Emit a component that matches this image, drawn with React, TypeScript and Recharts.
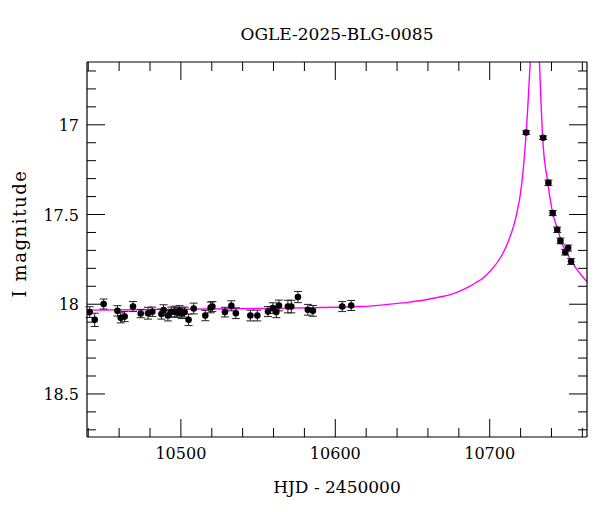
import React from 'react';
import { ComposedChart, Scatter, Line, XAxis, YAxis, ErrorBar, Label } from 'recharts';

const obsHjd = [10440.9, 10444.2, 10450.0, 10458.9, 10461.0, 10463.6, 10469.0, 10474.0, 10478.7, 10481.5, 10487.4, 10488.8, 10491.6, 10493.8, 10496.0, 10497.7, 10499.2, 10500.7, 10502.4, 10505.0, 10508.3, 10515.8, 10519.3, 10520.4, 10528.5, 10532.7, 10535.6, 10545.0, 10549.5, 10556.4, 10559.6, 10561.8, 10563.5, 10569.3, 10571.5, 10575.8, 10582.2, 10585.5, 10604.5, 10610.3, 10723.6, 10734.6, 10738.0, 10740.8, 10743.7, 10745.8, 10748.9, 10750.8, 10752.7];
const obsMag = [18.044, 18.087, 17.999, 18.037, 18.076, 18.069, 18.013, 18.052, 18.050, 18.042, 18.055, 18.033, 18.063, 18.044, 18.041, 18.046, 18.037, 18.050, 18.044, 18.087, 18.024, 18.063, 18.018, 18.013, 18.044, 18.009, 18.050, 18.063, 18.063, 18.041, 18.022, 18.044, 18.007, 18.013, 18.013, 17.960, 18.031, 18.037, 18.013, 18.007, 17.043, 17.072, 17.323, 17.492, 17.585, 17.647, 17.710, 17.687, 17.762];
const obsErr = [0.030, 0.037, 0.028, 0.029, 0.028, 0.028, 0.028, 0.023, 0.033, 0.026, 0.028, 0.030, 0.030, 0.028, 0.030, 0.027, 0.029, 0.030, 0.028, 0.032, 0.030, 0.029, 0.030, 0.028, 0.027, 0.028, 0.030, 0.030, 0.030, 0.028, 0.030, 0.031, 0.030, 0.035, 0.035, 0.031, 0.030, 0.030, 0.028, 0.028, 0.010, 0.010, 0.015, 0.014, 0.015, 0.016, 0.016, 0.017, 0.016];

const modelHjd = [10439.2, 10499.2, 10557.5, 10615.7, 10637.3, 10648.1, 10658.9, 10667.5, 10673.9, 10680.7, 10686.9, 10691.2, 10695.5, 10698.8, 10702.0, 10707.4, 10710.6, 10712.8, 10716.7, 10720.8, 10723.6, 10726.2, 10729.3, 10732.2, 10734.3, 10737.6, 10740.8, 10744.1, 10746.3, 10749.5, 10753.1, 10763.0];
const modelMag = [18.033, 18.028, 18.023, 18.013, 17.998, 17.988, 17.975, 17.960, 17.948, 17.927, 17.901, 17.879, 17.855, 17.829, 17.799, 17.734, 17.680, 17.632, 17.524, 17.325, 17.046, 16.650, 16.0, 16.650, 17.074, 17.323, 17.492, 17.585, 17.650, 17.706, 17.762, 17.875];

const xTicks = [10440, 10460, 10480, 10500, 10520, 10540, 10560, 10580, 10600, 10620, 10640, 10660, 10680, 10700, 10720, 10740, 10760];
const yTicks = [16.7, 16.8, 16.9, 17.0, 17.1, 17.2, 17.3, 17.4, 17.5, 17.6, 17.7, 17.8, 17.9, 18.0, 18.1, 18.2, 18.3, 18.4, 18.5, 18.6, 18.7];

const xDomain = [10439.2, 10763.0];
const yDomain = [16.65, 18.74];

const obsData = obsHjd.map((h, i) => ({ hjd: h, mag: obsMag[i], err: obsErr[i] }));
const modelData = modelHjd.map((h, i) => ({ hjd: h, mag: modelMag[i] }));

const FONT = '"DejaVu Serif", "Liberation Serif", serif';
const MAJ = 18;
const MIN = 9;

const isMajorX = (v: number) => Math.abs(v % 100) < 1e-6;
const isMajorY = (v: number) => Math.abs(v * 2 - Math.round(v * 2)) < 1e-6;

const BottomTick = (p: any) => {
  const { x, y, payload } = p;
  const v = payload.value;
  const major = isMajorX(v);
  return (
    <g>
      <line x1={x} y1={y} x2={x} y2={y - (major ? MAJ : MIN)} stroke="#000" strokeWidth={1} />
      {major && (
        <text x={x} y={y + 22} textAnchor="middle" fontFamily={FONT} fontSize={16} fill="#000">
          {v}
        </text>
      )}
    </g>
  );
};

const TopTick = (p: any) => {
  const { x, y, payload } = p;
  const major = isMajorX(payload.value);
  return <line x1={x} y1={y} x2={x} y2={y + (major ? MAJ : MIN)} stroke="#000" strokeWidth={1} />;
};

const LeftTick = (p: any) => {
  const { x, y, payload } = p;
  const v = payload.value;
  const major = isMajorY(v);
  return (
    <g>
      <line x1={x} y1={y} x2={x + (major ? MAJ : MIN)} y2={y} stroke="#000" strokeWidth={1} />
      {major && (
        <text x={x - 8} y={y + 6} textAnchor="end" fontFamily={FONT} fontSize={16} fill="#000">
          {Math.abs(v - Math.round(v)) < 1e-6 ? String(Math.round(v)) : v.toFixed(1)}
        </text>
      )}
    </g>
  );
};

const RightTick = (p: any) => {
  const { x, y, payload } = p;
  const major = isMajorY(payload.value);
  return <line x1={x} y1={y} x2={x - (major ? MAJ : MIN)} y2={y} stroke="#000" strokeWidth={1} />;
};

const Dot = (p: any) => {
  const { cx, cy } = p;
  return <circle cx={cx} cy={cy} r={3.3} fill="#000" />;
};

export default function App() {
  return (
    <ComposedChart width={592} height={496} margin={{ top: 0, right: 0, bottom: 0, left: 0 }}>
      <XAxis
        xAxisId="b"
        dataKey="hjd"
        type="number"
        orientation="bottom"
        domain={xDomain}
        ticks={xTicks}
        allowDataOverflow
        height={67}
        tickSize={0}
        tickMargin={0}
        tick={<BottomTick />}
        interval={0}
        axisLine={{ stroke: '#000', strokeWidth: 1.2 }}
      >
        <Label
          content={(props: any) => {
            const vb = props.viewBox;
            return (
              <text x={vb.x + vb.width / 2} y={vb.y + 56} textAnchor="middle" fontFamily={FONT} fontSize={17} fill="#000">
                HJD - 2450000
              </text>
            );
          }}
        />
      </XAxis>
      <XAxis
        xAxisId="t"
        dataKey="hjd"
        type="number"
        orientation="top"
        domain={xDomain}
        ticks={xTicks}
        allowDataOverflow
        height={54}
        tickSize={0}
        tickMargin={0}
        tick={<TopTick />}
        interval={0}
        axisLine={{ stroke: '#000', strokeWidth: 1.2 }}
      >
        <Label
          content={(props: any) => {
            const vb = props.viewBox;
            return (
              <text x={vb.x + vb.width / 2} y={32} textAnchor="middle" fontFamily={FONT} fontSize={17} fill="#000">
                OGLE-2025-BLG-0085
              </text>
            );
          }}
        />
      </XAxis>
      <YAxis
        yAxisId="l"
        type="number"
        orientation="left"
        domain={yDomain}
        ticks={yTicks}
        reversed
        allowDataOverflow
        width={79}
        tickSize={0}
        tickMargin={0}
        tick={<LeftTick />}
        interval={0}
        axisLine={{ stroke: '#000', strokeWidth: 1.2 }}
      >
        <Label
          content={(props: any) => {
            const vb = props.viewBox;
            const cx = 18;
            const cy = vb.y + vb.height / 2 - 16;
            return (
              <text x={cx} y={cy} transform={`rotate(-90 ${cx} ${cy})`} textAnchor="middle" fontFamily={FONT} fontSize={18} letterSpacing={1.6} fill="#000">
                I magnitude
              </text>
            );
          }}
        />
      </YAxis>
      <YAxis
        yAxisId="r"
        type="number"
        orientation="right"
        domain={yDomain}
        ticks={yTicks}
        reversed
        allowDataOverflow
        width={13}
        tickSize={0}
        tickMargin={0}
        tick={<RightTick />}
        interval={0}
        axisLine={{ stroke: '#000', strokeWidth: 1.2 }}
      />
      <Line
        xAxisId="b"
        yAxisId="l"
        data={modelData}
        dataKey="mag"
        type="monotone"
        stroke="#ff00ff"
        strokeWidth={1.4}
        dot={false}
        activeDot={false}
        isAnimationActive={false}
      />
      <Scatter
        xAxisId="b"
        yAxisId="l"
        data={obsData}
        dataKey="mag"
        fill="#000"
        shape={<Dot />}
        isAnimationActive={false}
      >
        <ErrorBar dataKey="err" direction="y" width={4} stroke="#222" strokeWidth={1} />
      </Scatter>
    </ComposedChart>
  );
}
